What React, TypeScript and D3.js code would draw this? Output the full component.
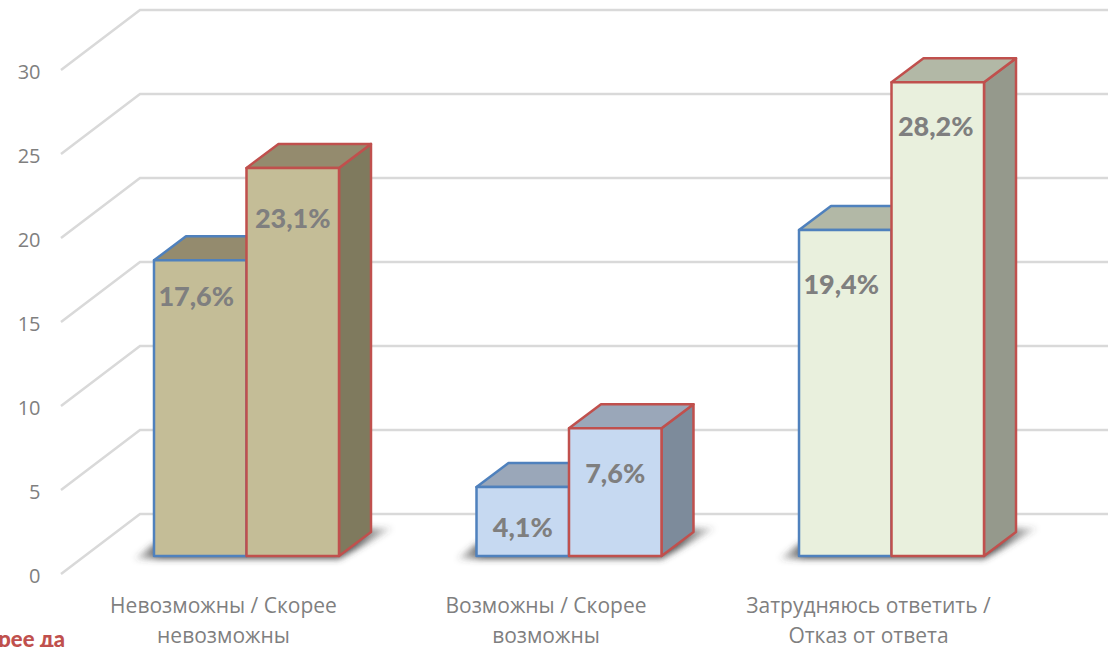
import React from 'react'
import * as d3 from 'd3'

const categories = [
  ['Невозможны / Скорее', 'невозможны'],
  ['Возможны / Скорее', 'возможны'],
  ['Затрудняюсь ответить /', 'Отказ от ответа'],
]
const firstSeries = [17.6, 4.1, 19.4]
const secondSeries = [23.1, 7.6, 28.2]
const yTicks = [0, 5, 10, 15, 20, 25, 30]
const legendFragment = 'Скорее да'

// colours per category: front, top, side
const frontColors = ['#c4bd97', '#c6d9f1', '#e9f0dd']
const topColors = ['#948b6e', '#9aa7b9', '#b2b8a6']
const sideColors = ['#7f7a5e', '#7d8b9b', '#95998c']
const BLUE = '#4f81bd'
const RED = '#c0504d'

// label placement relative to the bar (below top, and off centre)
const firstLabelDrop = [35, 39, 53]
const secondLabelDrop = [50, 44, 43]
const firstLabelShift = [-4, 0, -4]
const secondLabelShift = [0, 0, -2]

const width = 1110
const height = 647
const baseY = 556
const depthX = 32
const depthY = -24
const font = '"Open Sans", "Noto Sans", sans-serif'
const fontBold = 'Lato, "Open Sans", sans-serif'

const y = d3.scaleLinear().domain([0, 30]).range([baseY, baseY - 504])
const x0 = d3.scaleBand<number>()
  .domain(d3.range(categories.length))
  .range([154, 984])
  .paddingInner(0.4264)
const x1 = d3.scaleBand<number>().domain([0, 1]).range([0, x0.bandwidth()])

function pts(list: number[][]) {
  return list.map(p => p.join(',')).join(' ')
}

function Bar({ left, w, value, group, stroke, drop, shift }: any) {
  const top = y(value)
  const right = left + w
  const dx = depthX
  const dy = depthY
  return (
    <g stroke={stroke} strokeWidth={2.5} strokeLinejoin="round">
      <polygon
        fill={sideColors[group]}
        points={pts([[right, top], [right + dx, top + dy], [right + dx, baseY + dy], [right, baseY]])}
      />
      <polygon
        fill={topColors[group]}
        points={pts([[left, top], [left + dx, top + dy], [right + dx, top + dy], [right, top]])}
      />
      <rect x={left} y={top} width={w} height={baseY - top} fill={frontColors[group]} />
      <text
        x={left + w / 2 + shift}
        y={top + drop}
        textAnchor="middle"
        dominantBaseline="central"
        stroke="none"
        fill="#7f7f7f"
        fontFamily={fontBold}
        fontWeight={900}
        fontSize={27}
      >
        {String(value).replace('.', ',')}%
      </text>
    </g>
  )
}

export default function App() {
  return (
    <svg
      width={width}
      height={height}
      viewBox={`0 0 ${width} ${height}`}
      style={{ position: 'absolute', left: 0, top: 0, background: '#fff' }}
    >
      <defs>
        <filter id="floorShadow" x="-20%" y="-100%" width="140%" height="300%">
          <feGaussianBlur stdDeviation="3" />
        </filter>
        {/* fades out at both ends of the floor shadow */}
        <linearGradient id="shadowFade" x1="0" x2="1" y1="0" y2="0">
          <stop offset="0" stopColor="#3f3f3f" stopOpacity={0.1} />
          <stop offset="0.1" stopColor="#3f3f3f" stopOpacity={0.85} />
          <stop offset="0.85" stopColor="#3f3f3f" stopOpacity={0.85} />
          <stop offset="1" stopColor="#3f3f3f" stopOpacity={0.1} />
        </linearGradient>
      </defs>

      {/* walls and floor grid */}
      {yTicks.map(t => {
        const fy = y(t) + 18
        return (
          <g key={t}>
            <polyline
              fill="none"
              stroke="#d9d9d9"
              strokeWidth={2.5}
              points={pts([[61, fy], [140, fy - 60], [1108, fy - 60]])}
            />
            <text x={40.5} y={fy + 1} textAnchor="end" dominantBaseline="central" fill="#7f7f7f" fontFamily={font} fontSize={20}>
              {t}
            </text>
          </g>
        )
      })}

      {categories.map((lines, i) => {
        const left = x0(i) as number
        const w = x1.bandwidth()
        const right = left + 2 * w
        return (
          <g key={i}>
            <polygon
              filter="url(#floorShadow)"
              fill="url(#shadowFade)"
              points={pts([[left - 20, baseY + 3], [right, baseY + 3], [right + 54, baseY - 28], [right, baseY - 28], [left, baseY - 12]])}
            />
            <Bar left={left + x1(0)} w={w} value={firstSeries[i]} group={i} stroke={BLUE} drop={firstLabelDrop[i]} shift={firstLabelShift[i]} />
            <Bar left={left + x1(1)} w={w} value={secondSeries[i]} group={i} stroke={RED} drop={secondLabelDrop[i]} shift={secondLabelShift[i]} />
            {lines.map((line, k) => (
              <text
                key={k}
                x={left + w - 23}
                y={605 + k * 30}
                textAnchor="middle"
                dominantBaseline="central"
                fill="#7f7f7f"
                fontFamily={font}
                fontSize={21}
              >
                {line}
              </text>
            ))}
          </g>
        )
      })}

      <text x={65} y={638} textAnchor="end" dominantBaseline="central" fill={RED} fontFamily={fontBold} fontWeight={900} fontSize={22}>
        {legendFragment}
      </text>
    </svg>
  )
}
